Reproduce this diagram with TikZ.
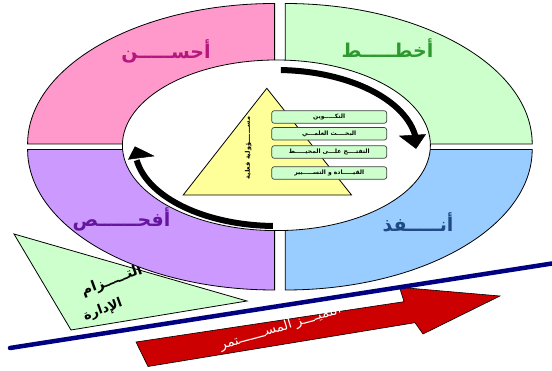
\documentclass[tikz,border=0pt]{standalone}
\usepackage{fontspec}
\TeXXeTstate=1
\newfontfamily\arabicfont[Script=Arabic]{DejaVu Sans}
\definecolor{qpink}{HTML}{FF99CC}
\definecolor{qgreen}{HTML}{CCFFCC}
\definecolor{qblue}{HTML}{99CCFF}
\definecolor{qpurple}{HTML}{CC99FF}
\definecolor{tpink}{HTML}{B5177F}
\definecolor{tgreen}{HTML}{2F992F}
\definecolor{tpurple}{HTML}{66169E}
\definecolor{tblue}{HTML}{1F4A85}
\definecolor{pyr}{HTML}{FFFF99}
\definecolor{navyline}{HTML}{000080}
\definecolor{redarrow}{HTML}{CC0000}
\tikzset{
  quad/.style={draw=black, line width=0.8pt},
  biglabel/.style={font=\arabicfont\bfseries\fontsize{19}{19}\selectfont, inner sep=0pt},
  axisbox/.style={draw=black!75, fill=qgreen, rounded corners=2.5pt, line width=0.7pt,
     minimum width=115pt, minimum height=12.6pt, inner sep=0pt,
     font=\arabicfont\bfseries\fontsize{6}{6}\selectfont},
  cyclearrow/.style={line width=6pt, draw=black},
  headtip/.style={fill=black, draw=black, line width=0.5pt, line join=miter},
}
\begin{document}
\begin{tikzpicture}[x=1pt,y=-1pt]
\useasboundingbox (0,0) rectangle (552,371);
% left triangle
\filldraw[fill=qgreen, draw=black, line width=0.8pt] (14,234) -- (247,301) -- (71,330) -- cycle;
\node[font=\arabicfont\bfseries\fontsize{14}{14}\selectfont, rotate=20, inner sep=0pt] (commit1) at (112,281) {\beginR التـــــزام\endR};
\node[font=\arabicfont\bfseries\fontsize{13}{13}\selectfont, rotate=20, inner sep=0pt] (commit2) at (103,310) {\beginR الإدارة\endR};
% quadrants
\filldraw[quad, fill=qpink] (274.6,144) -- (274.6,3.5) arc[start angle=270, end angle=180, x radius=247, y radius=140.5] -- cycle;
\filldraw[quad, fill=qgreen] (285.2,144) -- (285.2,3.5) arc[start angle=270, end angle=360, x radius=247, y radius=140.5] -- cycle;
\filldraw[quad, fill=qblue] (285.2,149.5) -- (532.2,149.5) arc[start angle=0, end angle=90, x radius=247, y radius=140.5] -- cycle;
\filldraw[quad, fill=qpurple] (274.6,149.5) -- (274.6,290) arc[start angle=90, end angle=180, x radius=247, y radius=140.5] -- cycle;
% inner ellipse
\filldraw[fill=white, draw=black, line width=0.8pt] (276.4,145.3) ellipse[x radius=154, y radius=85.3];
% labels
\node[biglabel, text=tpink] (act) at (166,51) {\beginR أحســـــن\endR};
\node[biglabel, text=tgreen] (plan) at (387.5,48.5) {\beginR أخطـــــط\endR};
\node[biglabel, text=tpurple] (check) at (121.5,219) {\beginR أفحــــــص\endR};
\node[biglabel, text=tblue] (do) at (418,222) {\beginR أنـــــفذ\endR};
% pyramid
\filldraw[fill=pyr, draw=black, line width=0.8pt] (266.8,88.3) -- (351.5,195) -- (183.2,195) -- cycle;
\node[font=\arabicfont\bfseries\fontsize{6.5}{6.5}\selectfont, rotate=90, inner sep=0pt] (pyrtext) at (248.3,148) {\beginR مســـــــؤولية فعلية\endR};
\node[axisbox] (b1) at (329.2,117) {\beginR التكـــــوين\endR};
\node[axisbox] (b2) at (329.2,133.8) {\beginR البحــــث العلمـــي\endR};
\node[axisbox] (b3) at (329.2,152) {\beginR التفتــــح علـــى المحيـــــط\endR};
\node[axisbox] (b4) at (329.2,173) {\beginR القيـــــادة و التســـــيير\endR};
% cycle arrows
\draw[cyclearrow] (276,148) ++(272:141 and 78) coordinate (ta) arc[start angle=272, end angle=352, x radius=141, y radius=78] coordinate (tb);
\filldraw[headtip] (399.5,136) -- (425.5,134.5) -- (416,148.5) -- cycle;
\draw[cyclearrow] (276,148) ++(91.3:141 and 78) coordinate (ba) arc[start angle=91.3, end angle=171, x radius=141, y radius=78] coordinate (bb);
\filldraw[headtip] (128.5,159.3) -- (153.9,156) -- (135,146.7) -- cycle;
% red arrow
\filldraw[fill=redarrow, draw=black, line width=0.6pt] (136,342) -- (404,301.7) -- (399.5,287.3) -- (500,296) -- (423,334) -- (415,322.7) -- (148,366.5) -- cycle;
\node[font=\arabicfont\fontsize{13.5}{13.5}\selectfont, text=white, rotate=17, inner sep=0pt, anchor=south west] (improve) at (222,353) {\beginR التميــــز المســـــــتمر\endR};
% blue line
\coordinate (l1) at (10,348);
\coordinate (l2) at (552,263.5);
\draw[navyline, line width=4.5pt, line cap=round] (l1) -- (l2);
\end{tikzpicture}
\end{document}
